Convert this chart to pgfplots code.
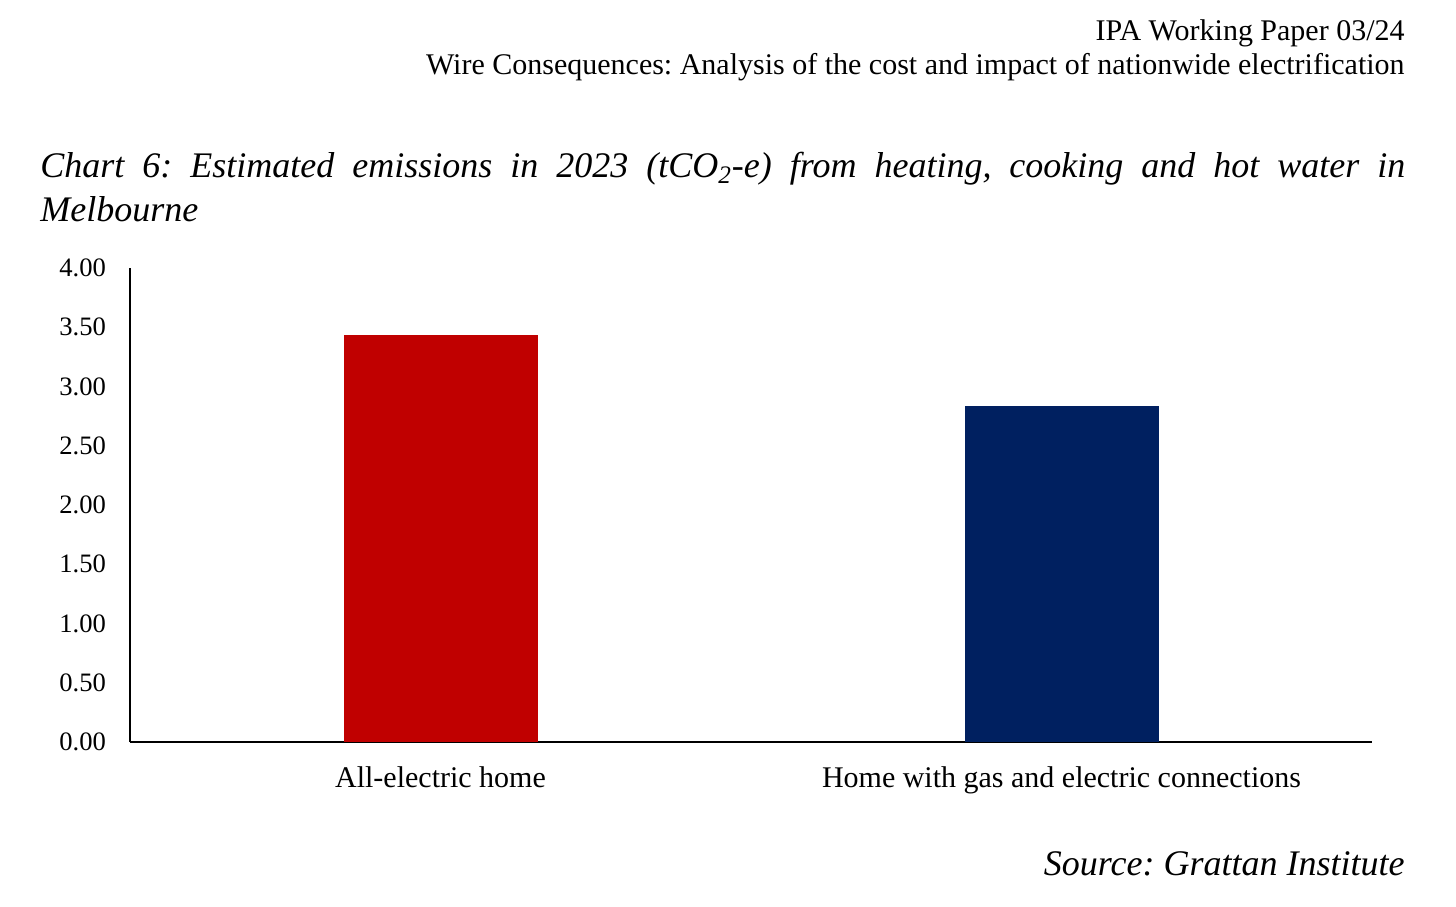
\documentclass[border=0pt]{standalone}
\usepackage{pgfplots}
\pgfplotsset{compat=1.18}
\usepackage{fontspec}
\setmainfont{Liberation Serif}
\definecolor{cred}{HTML}{C00000}
\definecolor{cnavy}{HTML}{002060}
\frenchspacing
\begin{document}
\begin{tikzpicture}
\useasboundingbox (0,0) rectangle (728pt,453pt);
\begin{axis}[
  at={(65pt,82pt)}, anchor=south west,
  scale only axis, width=621pt, height=237pt,
  xmin=-0.5, xmax=1.5, ymin=0, ymax=4,
  axis x line=bottom, axis y line=left,
  axis line style={line width=1pt, -},
  ytick={0,0.5,...,4},
  yticklabel style={/pgf/number format/fixed, /pgf/number format/fixed zerofill, /pgf/number format/precision=2, font=\fontsize{13.3pt}{16pt}\selectfont, xshift=-8.5pt},
  /pgf/number format/assume math mode=true,
  xtick={0,1},
  xticklabels={All-electric home, Home with gas and electric connections},
  xticklabel style={font=\fontsize{15pt}{18pt}\selectfont, yshift=-9pt},
  major tick length=0pt,
  ybar, bar width=97pt,
]
\addplot[fill=cred, draw=none, bar shift=0pt] coordinates {(0,3.435)};
\addplot[fill=cnavy, draw=none, bar shift=0pt] coordinates {(1,2.835)};
\end{axis}
\node[anchor=base east, inner sep=0pt, font=\fontsize{15pt}{18pt}\selectfont] at (702.5pt,432.5pt) {IPA Working Paper 03/24};
\node[anchor=base east, inner sep=0pt, font=\fontsize{15pt}{18pt}\selectfont] at (702.5pt,415.5pt) {Wire Consequences: Analysis of the cost and impact of nationwide electrification};
\node[anchor=base west, inner sep=0pt, font=\fontsize{18pt}{22pt}\selectfont\itshape] at (20pt,364pt) {\makebox[682.5pt][s]{Chart 6: Estimated emissions in 2023 (tCO\textsubscript{2}-e) from heating, cooking and hot water in}};
\node[anchor=base west, inner sep=0pt, font=\fontsize{18pt}{22pt}\selectfont\itshape] at (20pt,342pt) {Melbourne};
\node[anchor=base east, inner sep=0pt, font=\fontsize{18pt}{22pt}\selectfont\itshape] at (702.5pt,15.5pt) {Source: Grattan Institute};
\end{tikzpicture}
\end{document}
